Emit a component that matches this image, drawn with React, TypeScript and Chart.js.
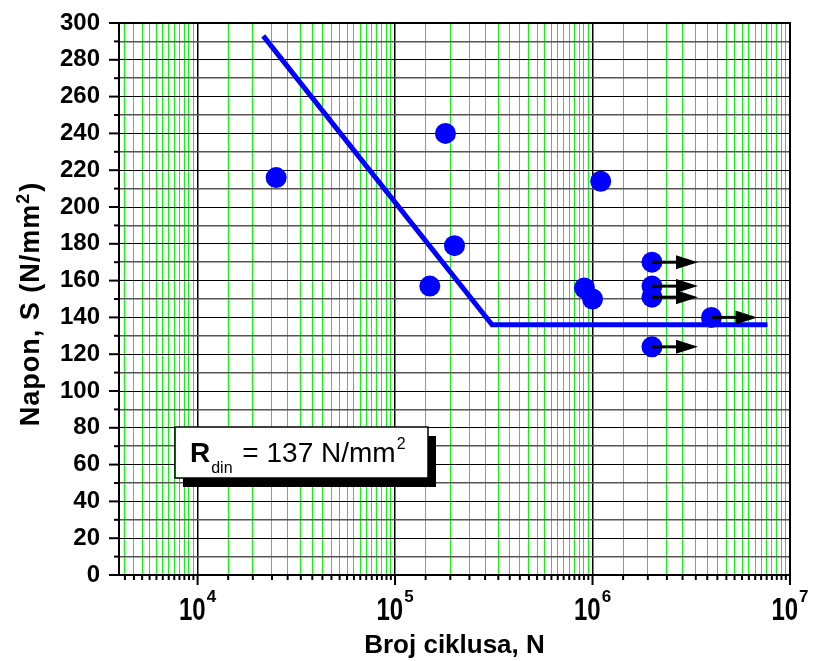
import React, { useEffect, useRef } from 'react';
import { Chart, registerables } from 'chart.js';

Chart.register(...registerables);

// ---- data ----
const cycles = [2.5e4, 1.8e5, 2.0e5, 1.5e5, 1.1e6, 9.1e5, 1.0e6, 2.0e6, 2.0e6, 2.0e6, 4.0e6, 2.0e6];
const stress = [216, 240, 179, 157, 214, 156, 150, 170, 157, 151, 140, 124];
const runout = [false, false, false, false, false, false, false, true, true, true, true, true];
const curveCycles = [2.15e4, 3.1e5, 7.7e6];
const curveStress = [293, 136, 136];
const xDecades = [1e4, 1e5, 1e6, 1e7];
const xExponents = ['4', '5', '6', '7'];
const yLabelTicks = [0, 20, 40, 60, 80, 100, 120, 140, 160, 180, 200, 220, 240, 260, 280, 300];
const xMin = 4000;
const xMax = 1e7;
const yMin = 0;
const yMax = 300;
const xTitle = 'Broj ciklusa, N';
const yTitleMain = 'Napon, S (N/mm';
const yTitleSup = '2';
const yTitleEnd = ')';
const boxR = 'R';
const boxSub = 'din';
const boxText = ' = 137 N/mm';
const boxSup = '2';

const FONT = '"Liberation Sans", Arial, sans-serif';

// minor grid positions: 20 linear subdivisions of each [0, 10^(d+1)] range (as in the original Origin plot)
function buildXTicks() {
  const out: { value: number; major: boolean }[] = [];
  for (let d = 3; d <= 6; d++) {
    const top = Math.pow(10, d + 1);
    for (let k = 3; k <= 20; k++) {
      const v = (k * top) / 21;
      if (v >= xMin && v <= xMax) out.push({ value: v, major: false });
    }
  }
  xDecades.forEach((v) => out.push({ value: v, major: true }));
  out.sort((a, b) => a.value - b.value);
  return out;
}
const xTickList = buildXTicks();
const isDecade = (v: number) => xDecades.some((d) => Math.abs(d - v) / d < 1e-6);

const decorPlugin = {
  id: 'decor',
  afterDraw(chart: any) {
    const ctx = chart.ctx as CanvasRenderingContext2D;
    const area = chart.chartArea;
    const xs = chart.scales.x;
    const ys = chart.scales.y;
    ctx.save();

    // arrows for run-outs
    const meta = chart.getDatasetMeta(0);
    ctx.fillStyle = '#000';
    ctx.strokeStyle = '#000';
    meta.data.forEach((el: any, i: number) => {
      if (!runout[i]) return;
      const px = el.x;
      const py = el.y;
      ctx.lineWidth = 3;
      ctx.beginPath();
      ctx.moveTo(px, py);
      ctx.lineTo(px + 26, py);
      ctx.stroke();
      ctx.beginPath();
      ctx.moveTo(px + 24, py - 7);
      ctx.lineTo(px + 46, py);
      ctx.lineTo(px + 24, py + 7);
      ctx.closePath();
      ctx.fill();
    });

    // frame
    ctx.lineWidth = 2;
    ctx.strokeStyle = '#000';
    ctx.strokeRect(area.left, area.top, area.right - area.left, area.bottom - area.top);

    // y ticks
    for (let v = yMin; v <= yMax; v += 10) {
      const y = ys.getPixelForValue(v);
      const len = v % 20 === 0 ? 10 : 5;
      ctx.beginPath();
      ctx.moveTo(area.left - len, y);
      ctx.lineTo(area.left, y);
      ctx.stroke();
    }
    // x ticks
    xTickList.forEach((t) => {
      const x = xs.getPixelForValue(t.value);
      const len = t.major ? 10 : 5;
      ctx.beginPath();
      ctx.moveTo(x, area.bottom);
      ctx.lineTo(x, area.bottom + len);
      ctx.stroke();
    });

    // x tick labels 10^n
    ctx.fillStyle = '#000';
    ctx.textBaseline = 'alphabetic';
    ctx.textAlign = 'left';
    xDecades.forEach((v, i) => {
      const x = xs.getPixelForValue(v);
      ctx.font = `bold 24px ${FONT}`;
      const w1 = ctx.measureText('10').width;
      ctx.font = `bold 17px ${FONT}`;
      const w2 = ctx.measureText(xExponents[i]).width;
      const start = x - (w1 + w2 + 1) / 2;
      ctx.save();
      ctx.translate(start, 620);
      ctx.scale(1, 1.28);
      ctx.font = `bold 24px ${FONT}`;
      ctx.fillText('10', 0, 0);
      ctx.restore();
      ctx.font = `bold 17px ${FONT}`;
      ctx.fillText(xExponents[i], start + w1 + 1, 602);
    });

    // x title
    ctx.font = `bold 26px ${FONT}`;
    ctx.textAlign = 'center';
    ctx.fillText(xTitle, (area.left + area.right) / 2, 653);

    // y title (rotated)
    ctx.save();
    ctx.translate(38.5, 304);
    ctx.rotate(-Math.PI / 2);
    ctx.textAlign = 'left';
    try { (ctx as any).letterSpacing = '1px'; } catch (e) {}
    ctx.font = `bold 27px ${FONT}`;
    const a = ctx.measureText(yTitleMain).width;
    const c = ctx.measureText(yTitleEnd).width;
    ctx.font = `bold 18px ${FONT}`;
    const b = ctx.measureText(yTitleSup).width;
    const total = a + b + c + 1;
    let cx = -total / 2;
    ctx.font = `bold 27px ${FONT}`;
    ctx.fillText(yTitleMain, cx, 0);
    cx += a;
    ctx.font = `bold 18px ${FONT}`;
    ctx.fillText(yTitleSup, cx, -10);
    cx += b + 1;
    ctx.font = `bold 27px ${FONT}`;
    ctx.fillText(yTitleEnd, cx, 0);
    try { (ctx as any).letterSpacing = '0px'; } catch (e) {}
    ctx.restore();

    // R_din box
    const bx = 175, by = 427, bw = 253, bh = 51;
    ctx.fillStyle = '#000';
    ctx.fillRect(bx + 8, by + 9, bw, bh);
    ctx.fillStyle = '#fff';
    ctx.fillRect(bx, by, bw, bh);
    ctx.lineWidth = 1.5;
    ctx.strokeStyle = '#000';
    ctx.strokeRect(bx, by, bw, bh);
    ctx.fillStyle = '#000';
    ctx.textAlign = 'left';
    let tx = 190;
    ctx.font = `bold 28px ${FONT}`;
    ctx.fillText(boxR, tx, 462);
    tx += ctx.measureText(boxR).width + 1;
    ctx.font = `16px ${FONT}`;
    ctx.fillText(boxSub, tx, 473);
    tx += ctx.measureText(boxSub).width + 2;
    ctx.font = `28px ${FONT}`;
    ctx.fillText(boxText, tx, 462);
    tx += ctx.measureText(boxText).width + 1;
    ctx.font = `16px ${FONT}`;
    ctx.fillText(boxSup, tx, 449);

    ctx.restore();
  },
};

export default function App() {
  const ref = useRef<HTMLCanvasElement | null>(null);

  useEffect(() => {
    if (!ref.current) return;
    const pts = cycles.map((x, i) => ({ x, y: stress[i] }));
    const curve = curveCycles.map((x, i) => ({ x, y: curveStress[i] }));
    const chart = new Chart(ref.current, {
      type: 'scatter',
      data: {
        datasets: [
          {
            label: 'tests',
            data: pts,
            backgroundColor: '#0000ff',
            borderWidth: 0,
            pointRadius: 10.5,
            pointHoverRadius: 10.5,
          },
          {
            label: 'S-N',
            data: curve,
            showLine: true,
            borderColor: '#0000ff',
            borderWidth: 5,
            pointRadius: 0,
            borderCapStyle: 'butt',
            borderJoinStyle: 'miter',
            fill: false,
          } as any,
        ],
      },
      options: {
        animation: false,
        responsive: false,
        devicePixelRatio: 1,
        layout: { padding: { top: 23, right: 24, left: 0, bottom: 0 } },
        plugins: { legend: { display: false }, tooltip: { enabled: false } },
        events: [],
        scales: {
          x: {
            type: 'logarithmic',
            min: xMin,
            max: xMax,
            afterBuildTicks: (scale: any) => {
              scale.ticks = xTickList.map((t) => ({ value: t.value, major: t.major }));
            },
            afterFit: (scale: any) => {
              scale.height = 86;
              scale.paddingLeft = 0;
              scale.paddingRight = 0;
            },
            ticks: { display: false, autoSkip: false },
            border: { display: false },
            grid: {
              drawTicks: false,
              color: (c: any) => (isDecade(c.tick.value) ? '#000000' : '#00ff00'),
              lineWidth: (c: any) => (isDecade(c.tick.value) ? 1.5 : 1),
            },
          },
          y: {
            type: 'linear',
            min: yMin,
            max: yMax,
            afterFit: (scale: any) => {
              scale.width = 119;
              scale.paddingTop = 0;
              scale.paddingBottom = 0;
            },
            ticks: {
              stepSize: 10,
              padding: 19,
              autoSkip: false,
              color: '#000',
              font: { family: FONT, size: 24, weight: 'bold' },
              callback: (v: any) => (yLabelTicks.includes(Number(v)) ? String(v) : ''),
            },
            border: { display: false },
            grid: {
              drawTicks: false,
              color: (c: any) => (c.tick.value % 20 === 0 ? '#000000' : '#555555'),
              lineWidth: (c: any) => (c.tick.value % 20 === 0 ? 1 : 1.5),
            },
          },
        },
      },
      plugins: [decorPlugin],
    });
    return () => chart.destroy();
  }, []);

  return (
    <div style={{ position: 'fixed', left: 0, top: 0, width: 814, height: 661, background: '#fff' }}>
      <canvas ref={ref} width={814} height={661} />
    </div>
  );
}
